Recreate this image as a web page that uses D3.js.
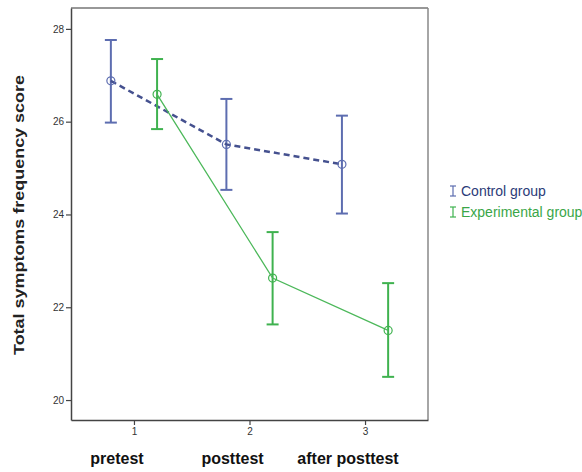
<!DOCTYPE html>
<html><head><meta charset="utf-8">
<script src="https://cdn.jsdelivr.net/npm/d3@7"></script>
<style>body{margin:0;background:#fff;}svg{display:block;font-family:"Liberation Sans",Arial,sans-serif;}</style>
</head><body>
<svg id="c" width="582" height="472"></svg>
<script>
const xTicks = [1, 2, 3];
const categories = ["pretest", "posttest", "after posttest"];
const yTicks = [20, 22, 24, 26, 28];
const seriesNames = ["Control group", "Experimental group"];
const controlMean = [26.88, 25.51, 25.08];
const controlLow  = [25.98, 24.53, 24.02];
const controlHigh = [27.76, 26.49, 26.13];
const expMean = [26.59, 22.63, 21.50];
const expLow  = [25.84, 21.63, 20.50];
const expHigh = [27.35, 23.62, 22.52];

const svg = d3.select("#c");
const L = 71, R = 428, T = 8, B = 420;
const x = d3.scaleLinear().domain([0.455, 3.545]).range([L, R]);
const y = d3.scaleLinear().domain([19.57, 28.45]).range([B, T]);

// frame
svg.append("line").attr("x1",L).attr("x2",R).attr("y1",T).attr("y2",T).attr("stroke","#333").attr("stroke-width",1.2);
svg.append("line").attr("x1",R).attr("x2",R).attr("y1",T).attr("y2",B).attr("stroke","#888").attr("stroke-width",1.5);

const yAx = svg.append("g").attr("transform",`translate(${L},0)`)
  .call(d3.axisLeft(y).tickValues(yTicks).tickSize(5).tickSizeOuter(0).tickPadding(2).tickFormat(d3.format("d")));
const xAx = svg.append("g").attr("transform",`translate(0,${B})`)
  .call(d3.axisBottom(x).tickValues(xTicks).tickSize(5).tickSizeOuter(0).tickPadding(3).tickFormat(d3.format("d")));
[yAx,xAx].forEach(g=>{
  g.select(".domain").attr("stroke","#444").attr("stroke-width",1.5);
  g.selectAll(".tick line").attr("stroke","#444").attr("stroke-width",1.2);
  g.selectAll(".tick text").attr("fill","#333").style("font-size","10px").style("font-family","'Liberation Sans',Arial,sans-serif");
});

// category labels
svg.append("g").selectAll("text").data(categories).join("text")
  .attr("x",(d,i)=>x(xTicks[i])-17).attr("y",464)
  .attr("text-anchor","middle").attr("font-weight","bold").attr("font-size","16px").attr("fill","#111")
  .text(d=>d);

// y title
svg.append("text").attr("transform","translate(24,215) rotate(-90)")
  .attr("text-anchor","middle").attr("font-weight","bold").attr("font-size","15px").attr("fill","#222")
  .attr("textLength",280).attr("lengthAdjust","spacingAndGlyphs")
  .text("Total symptoms frequency score");

const groups = [
  {name:seriesNames[0], mean:controlMean, lo:controlLow, hi:controlHigh, off:-0.2, line:"#45518f", bar:"#5d6db0", dash:"6,4", lw:2.5, text:"#2b3b78"},
  {name:seriesNames[1], mean:expMean, lo:expLow, hi:expHigh, off:0.2, line:"#4cb85a", bar:"#3fb24f", dash:null, lw:1.3, text:"#3aa648"}
];

groups.forEach(g=>{
  const pts = xTicks.map((t,i)=>({x:t+g.off, m:g.mean[i], lo:g.lo[i], hi:g.hi[i]}));
  const gg = svg.append("g");
  gg.selectAll(".eb").data(pts).join("line").attr("x1",d=>x(d.x)).attr("x2",d=>x(d.x))
    .attr("y1",d=>y(d.lo)).attr("y2",d=>y(d.hi)).attr("stroke",g.bar).attr("stroke-width",2);
  ["lo","hi"].forEach(k=>{
    gg.selectAll(".cap"+k).data(pts).join("line").attr("x1",d=>x(d.x)-6).attr("x2",d=>x(d.x)+6)
      .attr("y1",d=>y(d[k])).attr("y2",d=>y(d[k])).attr("stroke",g.bar).attr("stroke-width",2);
  });
  gg.append("path").datum(pts).attr("fill","none").attr("stroke",g.line).attr("stroke-width",g.lw)
    .attr("stroke-dasharray",g.dash)
    .attr("d",d3.line().x(d=>x(d.x)).y(d=>y(d.m)));
  gg.selectAll("circle").data(pts).join("circle").attr("cx",d=>x(d.x)).attr("cy",d=>y(d.m)).attr("r",4)
    .attr("fill","none").attr("stroke",g.bar).attr("stroke-width",1.2);
});

// legend
const lg = svg.append("g").selectAll("g").data(groups).join("g")
  .attr("transform",(d,i)=>`translate(453,${191+i*21})`);
lg.append("line").attr("x1",0).attr("x2",0).attr("y1",-5).attr("y2",5).attr("stroke",d=>d.bar).attr("stroke-width",1.2);
lg.append("line").attr("x1",-3).attr("x2",3).attr("y1",-5).attr("y2",-5).attr("stroke",d=>d.bar).attr("stroke-width",1.2);
lg.append("line").attr("x1",-3).attr("x2",3).attr("y1",5).attr("y2",5).attr("stroke",d=>d.bar).attr("stroke-width",1.2);
lg.append("text").attr("x",8).attr("y",5).attr("font-size","14px").attr("fill",d=>d.text).text(d=>d.name);
</script>
</body></html>
